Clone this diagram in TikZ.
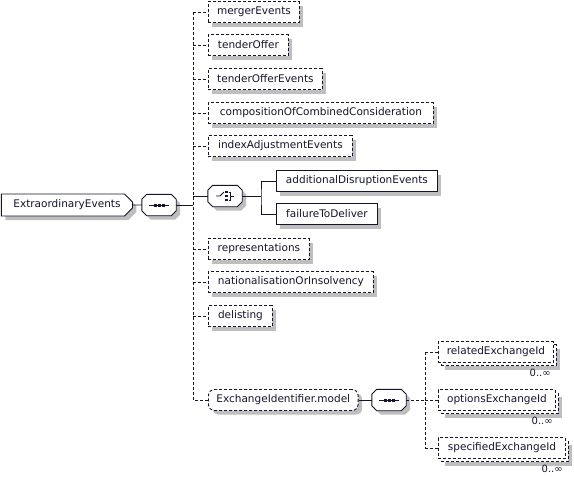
\documentclass[tikz,border=0pt]{standalone}
\usepackage{fontspec}
\usepackage{xcolor}
\usepackage{tikz}
\usetikzlibrary{shapes.misc,shadows,calc}
\newfontfamily\diafont{DejaVu Sans}
\definecolor{ink}{HTML}{14142E}
\definecolor{shadowgray}{HTML}{BEBEBE}
\tikzset{
  txt/.style={font=\diafont\fontsize{10.5}{12}\selectfont, text=ink},
  card/.style={font=\diafont\fontsize{10}{11}\selectfont, text=ink, inner sep=0pt, anchor=north east},
  grayshadow/.style={general shadow={fill=shadowgray, draw=none, shadow xshift=#1, shadow yshift=-#1}},
  grayshadow/.default=4pt,
  el/.style={txt, draw=ink, fill=white, line width=0.9pt, minimum height=21pt, inner xsep=8pt, inner ysep=0pt, anchor=west, grayshadow},
  optel/.style={el, dash pattern=on 3pt off 2pt},
  grpel/.style={optel, rounded corners=6pt},
  rootel/.style={el, chamfered rectangle, chamfered rectangle corners={north east,south east}, chamfered rectangle xsep=4pt, chamfered rectangle ysep=4pt, minimum width=123pt, minimum height=22pt},
  multiel/.style={txt, draw=ink, fill=white, line width=0.9pt, dash pattern=on 3pt off 2pt, minimum height=21pt, inner xsep=8pt, inner ysep=0pt, anchor=west,
    general shadow={fill=shadowgray, draw=none, shadow xshift=7pt, shadow yshift=-7pt},
    general shadow={fill=white, draw=ink, line width=0.9pt, dash pattern=on 3pt off 2pt, shadow xshift=3pt, shadow yshift=-3pt}},
  comp/.style={inner sep=0pt, minimum width=34pt, minimum height=21pt},
  compline/.style={draw=ink, fill=white, line width=0.9pt},
  link/.style={draw=ink, line width=0.9pt},
  optlink/.style={link, dash pattern=on 3pt off 2pt},
  glyph/.style={draw=ink, line width=0.9pt},
}
\begin{document}
\begin{tikzpicture}[x=1pt, y=-1pt]
  \useasboundingbox (0,0) rectangle (574,477);

  % compositor places
  \node[comp] (seq) at (159,205) {};
  \node[comp] (choice) at (225,196) {};
  \node[comp] (seq2) at (389,400) {};
  % octagon outline, shadow first
  \foreach \c in {seq,choice,seq2} {
    \fill[shadowgray, transform canvas={xshift=4pt, yshift=-4pt}]
      ([shift={(5,0)}]\c.north west) -- ([shift={(-5,0)}]\c.north east) -- ([shift={(0,5)}]\c.north east)
      -- ([shift={(0,-5)}]\c.south east) -- ([shift={(-5,0)}]\c.south east) -- ([shift={(5,0)}]\c.south west)
      -- ([shift={(0,-5)}]\c.south west) -- ([shift={(0,5)}]\c.north west) -- cycle;
    \draw[compline]
      ([shift={(5,0)}]\c.north west) -- ([shift={(-5,0)}]\c.north east) -- ([shift={(0,5)}]\c.north east)
      -- ([shift={(0,-5)}]\c.south east) -- ([shift={(-5,0)}]\c.south east) -- ([shift={(5,0)}]\c.south west)
      -- ([shift={(0,-5)}]\c.south west) -- ([shift={(0,5)}]\c.north west) -- cycle;
  }

  % root element and its sequence
  \node[rootel] (root) at (1,205) {ExtraordinaryEvents};
  \draw[glyph] ([xshift=-10pt]seq.center) -- ([xshift=10pt]seq.center);
  \foreach \dx in {-4,0,4}
    \fill[ink] ([shift={({\dx-1.5},-1.5)}]seq.center) rectangle +(3,3);
  \draw[link] (root) -- (seq);
  \coordinate (spine) at (193,205);
  \draw[link] (seq) -- (spine);

  % optional children of the sequence
  \foreach \nm/\y/\w/\lab in {merger/12/91/mergerEvents, tender/45/80/tenderOffer,
      tenderev/79/114/tenderOfferEvents, combined/113/225/compositionOfCombinedConsideration,
      indexadj/146/144/indexAdjustmentEvents, repres/249/101/representations,
      nation/282/165/nationalisationOrInsolvency, delist/316/64/delisting} {
    \node[optel, minimum width=\w pt] (\nm) at (208,\y) {\lab};
    \draw[optlink] (spine |- \nm.west) -- (\nm.west);
  }
  \node[grpel, minimum width=147pt] (xmodel) at (208,400) {ExchangeIdentifier.model};
  \draw[optlink] (spine |- merger.west) -- (spine |- xmodel.west) -- (xmodel.west);

  % choice
  \draw[link] (spine |- choice) -- (choice);
  \draw[glyph] ([xshift=-9pt]choice.center) -- ([xshift=-5pt]choice.center) -- ([shift={(-1,-4)}]choice.center);
  \foreach \dy in {-4,0,4}
    \fill[ink] ([shift={(0,{\dy-1.25})}]choice.center) rectangle +(2.5,2.5);
  \draw[glyph] ([shift={(3.5,-4)}]choice.center) -| ([shift={(5.5,4)}]choice.center) -- ([shift={(3.5,4)}]choice.center);
  \draw[glyph] ([shift={(5.5,0)}]choice.center) -- ([shift={(9,0)}]choice.center);
  \coordinate (fork) at (261,196);
  \node[el, minimum width=161pt] (adddis) at (276,181) {additionalDisruptionEvents};
  \node[el, minimum width=101pt] (failure) at (276,214) {failureToDeliver};
  \draw[link] (choice) -- (fork);
  \draw[link] (adddis.west) -| (fork) |- (failure.west);

  % group sequence
  \draw[glyph] ([xshift=-10pt]seq2.center) -- ([xshift=10pt]seq2.center);
  \foreach \dx in {-4,0,4}
    \fill[ink] ([shift={({\dx-1.5},-1.5)}]seq2.center) rectangle +(3,3);
  \draw[link] (xmodel) -- (seq2);
  \coordinate (spine2) at (425,400);
  \draw[optlink] (seq2) -- (spine2);
  \foreach \nm/\y/\w/\lab in {related/352/115/relatedExchangeId, options/400/117/optionsExchangeId,
      specified/448/127/specifiedExchangeId} {
    \node[multiel, minimum width=\w pt] (\nm) at (438,\y) {\lab};
    \draw[optlink] (spine2 |- \nm.west) -- (\nm.west);
    \node[card] (\nm card) at ([shift={(-3,6)}]\nm.south east) {0..∞};
  }
  \draw[optlink] (spine2 |- related.west) -- (spine2 |- specified.west);
\end{tikzpicture}
\end{document}
